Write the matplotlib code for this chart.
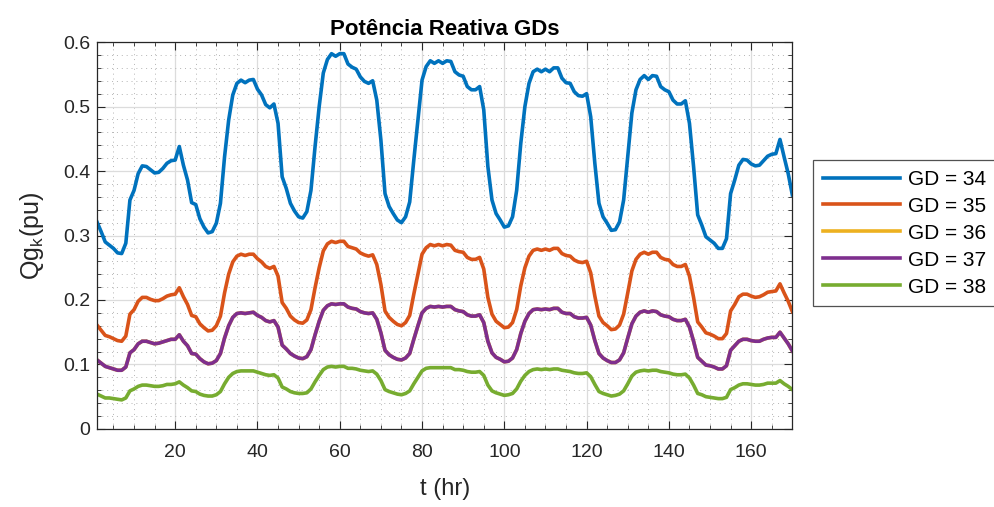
import numpy as np
import matplotlib.pyplot as plt
from matplotlib.ticker import MultipleLocator, FuncFormatter

plt.rcParams['font.family'] = ['Liberation Sans', 'DejaVu Sans']
plt.rcParams['mathtext.default'] = 'regular'

t = np.arange(1, 171)

gd34 = [0.321, 0.306, 0.290, 0.285, 0.280, 0.273, 0.272, 0.288, 0.355, 0.370,
        0.396, 0.408, 0.407, 0.402, 0.397, 0.398, 0.404, 0.412, 0.416, 0.417,
        0.438, 0.409, 0.386, 0.351, 0.348, 0.326, 0.313, 0.304, 0.306, 0.319,
        0.350, 0.422, 0.479, 0.518, 0.536, 0.541, 0.537, 0.541, 0.542, 0.527,
        0.518, 0.503, 0.498, 0.504, 0.474, 0.391, 0.373, 0.350, 0.338, 0.329,
        0.327, 0.337, 0.370, 0.438, 0.500, 0.552, 0.573, 0.582, 0.578, 0.582,
        0.582, 0.566, 0.561, 0.558, 0.546, 0.539, 0.536, 0.540, 0.510, 0.448,
        0.365, 0.345, 0.334, 0.324, 0.320, 0.329, 0.352, 0.417, 0.479, 0.541,
        0.562, 0.571, 0.567, 0.571, 0.567, 0.571, 0.570, 0.554, 0.549, 0.547,
        0.531, 0.526, 0.526, 0.531, 0.495, 0.407, 0.355, 0.334, 0.324, 0.313,
        0.315, 0.329, 0.370, 0.443, 0.500, 0.536, 0.554, 0.558, 0.554, 0.558,
        0.554, 0.560, 0.560, 0.544, 0.537, 0.536, 0.523, 0.517, 0.516, 0.520,
        0.484, 0.412, 0.350, 0.329, 0.319, 0.308, 0.309, 0.321, 0.355, 0.422,
        0.490, 0.526, 0.542, 0.548, 0.542, 0.548, 0.547, 0.531, 0.526, 0.523,
        0.510, 0.504, 0.504, 0.509, 0.474, 0.407, 0.332, 0.316, 0.298, 0.293,
        0.288, 0.280, 0.280, 0.295, 0.365, 0.386, 0.409, 0.418, 0.417, 0.411,
        0.408, 0.409, 0.416, 0.423, 0.426, 0.427, 0.449, 0.422, 0.396, 0.363]

gd35 = [0.161, 0.153, 0.145, 0.143, 0.140, 0.137, 0.136, 0.144, 0.178, 0.185,
        0.198, 0.204, 0.204, 0.201, 0.199, 0.199, 0.202, 0.206, 0.208, 0.209,
        0.219, 0.205, 0.193, 0.176, 0.174, 0.163, 0.157, 0.152, 0.153, 0.160,
        0.175, 0.211, 0.240, 0.259, 0.268, 0.271, 0.269, 0.271, 0.271, 0.264,
        0.259, 0.252, 0.249, 0.252, 0.237, 0.196, 0.187, 0.175, 0.169, 0.165,
        0.164, 0.169, 0.185, 0.219, 0.250, 0.276, 0.287, 0.291, 0.289, 0.291,
        0.291, 0.283, 0.281, 0.279, 0.273, 0.270, 0.268, 0.270, 0.255, 0.224,
        0.183, 0.173, 0.167, 0.162, 0.160, 0.165, 0.176, 0.209, 0.240, 0.271,
        0.281, 0.286, 0.284, 0.286, 0.284, 0.286, 0.285, 0.277, 0.275, 0.274,
        0.266, 0.263, 0.263, 0.266, 0.248, 0.204, 0.178, 0.167, 0.162, 0.157,
        0.158, 0.165, 0.185, 0.222, 0.250, 0.268, 0.277, 0.279, 0.277, 0.279,
        0.277, 0.280, 0.280, 0.272, 0.269, 0.268, 0.262, 0.259, 0.258, 0.260,
        0.242, 0.206, 0.175, 0.165, 0.160, 0.154, 0.155, 0.161, 0.178, 0.211,
        0.245, 0.263, 0.271, 0.274, 0.271, 0.274, 0.274, 0.266, 0.263, 0.262,
        0.255, 0.252, 0.252, 0.255, 0.237, 0.204, 0.166, 0.158, 0.149, 0.147,
        0.144, 0.140, 0.140, 0.148, 0.183, 0.193, 0.205, 0.209, 0.209, 0.206,
        0.204, 0.205, 0.208, 0.212, 0.213, 0.214, 0.225, 0.211, 0.198, 0.182]

gd36 = [0.107, 0.102, 0.097, 0.095, 0.093, 0.091, 0.091, 0.096, 0.118, 0.123,
        0.132, 0.136, 0.136, 0.134, 0.132, 0.133, 0.135, 0.137, 0.139, 0.139,
        0.146, 0.136, 0.129, 0.117, 0.116, 0.109, 0.104, 0.101, 0.102, 0.106,
        0.117, 0.141, 0.160, 0.173, 0.179, 0.180, 0.179, 0.180, 0.181, 0.176,
        0.173, 0.168, 0.166, 0.168, 0.158, 0.130, 0.124, 0.117, 0.113, 0.110,
        0.109, 0.112, 0.123, 0.146, 0.167, 0.184, 0.191, 0.194, 0.193, 0.194,
        0.194, 0.189, 0.187, 0.186, 0.182, 0.180, 0.179, 0.180, 0.170, 0.149,
        0.122, 0.115, 0.111, 0.108, 0.107, 0.110, 0.117, 0.139, 0.160, 0.180,
        0.187, 0.190, 0.189, 0.190, 0.189, 0.190, 0.190, 0.185, 0.183, 0.182,
        0.177, 0.175, 0.175, 0.177, 0.165, 0.136, 0.118, 0.111, 0.108, 0.104,
        0.105, 0.110, 0.123, 0.148, 0.167, 0.179, 0.185, 0.186, 0.185, 0.186,
        0.185, 0.187, 0.187, 0.181, 0.179, 0.179, 0.174, 0.172, 0.172, 0.173,
        0.161, 0.137, 0.117, 0.110, 0.106, 0.103, 0.103, 0.107, 0.118, 0.141,
        0.163, 0.175, 0.181, 0.183, 0.181, 0.183, 0.182, 0.177, 0.175, 0.174,
        0.170, 0.168, 0.168, 0.170, 0.158, 0.136, 0.111, 0.105, 0.099, 0.098,
        0.096, 0.093, 0.093, 0.098, 0.122, 0.129, 0.136, 0.139, 0.139, 0.137,
        0.136, 0.136, 0.139, 0.141, 0.142, 0.142, 0.150, 0.141, 0.132, 0.121]

# GD 37 coincide com GD 36
gd37 = list(gd36)

gd38 = [0.054, 0.051, 0.048, 0.048, 0.047, 0.046, 0.045, 0.048, 0.059, 0.062,
        0.066, 0.068, 0.068, 0.067, 0.066, 0.066, 0.067, 0.069, 0.069, 0.070,
        0.073, 0.068, 0.064, 0.059, 0.058, 0.054, 0.052, 0.051, 0.051, 0.053,
        0.058, 0.070, 0.080, 0.086, 0.089, 0.090, 0.090, 0.090, 0.090, 0.088,
        0.086, 0.084, 0.083, 0.084, 0.079, 0.065, 0.062, 0.058, 0.056, 0.055,
        0.055, 0.056, 0.062, 0.073, 0.083, 0.092, 0.096, 0.097, 0.096, 0.097,
        0.097, 0.094, 0.094, 0.093, 0.091, 0.090, 0.089, 0.090, 0.085, 0.075,
        0.061, 0.058, 0.056, 0.054, 0.053, 0.055, 0.059, 0.070, 0.080, 0.090,
        0.094, 0.095, 0.095, 0.095, 0.095, 0.095, 0.095, 0.092, 0.092, 0.091,
        0.089, 0.088, 0.088, 0.089, 0.083, 0.068, 0.059, 0.056, 0.054, 0.052,
        0.053, 0.055, 0.062, 0.074, 0.083, 0.089, 0.092, 0.093, 0.092, 0.093,
        0.092, 0.093, 0.093, 0.091, 0.090, 0.089, 0.087, 0.086, 0.086, 0.087,
        0.081, 0.069, 0.058, 0.055, 0.053, 0.051, 0.052, 0.054, 0.059, 0.070,
        0.082, 0.088, 0.090, 0.091, 0.090, 0.091, 0.091, 0.089, 0.088, 0.087,
        0.085, 0.084, 0.084, 0.085, 0.079, 0.068, 0.055, 0.053, 0.050, 0.049,
        0.048, 0.047, 0.047, 0.049, 0.061, 0.064, 0.068, 0.070, 0.070, 0.069,
        0.068, 0.068, 0.069, 0.071, 0.071, 0.071, 0.075, 0.070, 0.066, 0.061]

series = [gd34, gd35, gd36, gd37, gd38]
labels = ['GD = 34', 'GD = 35', 'GD = 36', 'GD = 37', 'GD = 38']
cores = ['#0072BD', '#D95319', '#EDB120', '#7E2F8E', '#77AC30']

fig = plt.figure(figsize=(9.94, 5.07), dpi=100)
ax = fig.add_axes([0.0976, 0.154, 0.6995, 0.763])

for y, lab, c in zip(series, labels, cores):
    ax.plot(t, y, color=c, linewidth=2.6, label=lab)

ax.set_xlim(1, 170)
ax.set_ylim(0, 0.6)
ax.xaxis.set_major_locator(MultipleLocator(20))
ax.xaxis.set_minor_locator(MultipleLocator(5))
ax.yaxis.set_major_locator(MultipleLocator(0.1))
ax.yaxis.set_minor_locator(MultipleLocator(0.02))
ax.yaxis.set_major_formatter(FuncFormatter(lambda v, p: '0' if abs(v) < 1e-9 else f'{v:g}'))

ax.grid(True, which='major', color='#dcdcdc', linewidth=0.9)
ax.grid(True, which='minor', color='#b4b4b4', linestyle=(0, (1, 4)), linewidth=0.7)
ax.set_axisbelow(True)

ax.tick_params(which='both', direction='in', top=True, right=True,
               colors='#262626', labelsize=14)
ax.tick_params(axis='x', which='major', pad=11)
ax.tick_params(axis='y', which='major', pad=5)
ax.tick_params(which='major', length=6)
ax.tick_params(which='minor', length=3)
for s in ax.spines.values():
    s.set_color('#262626')
    s.set_linewidth(0.9)

ax.set_title('Potência Reativa GDs', fontsize=16, fontweight='bold', pad=5)
ax.set_xlabel('t (hr)', fontsize=17, color='#262626', labelpad=12)
ax.set_ylabel('Qg$_{k}$(pu)', fontsize=18, color='#262626', labelpad=12)

leg = ax.legend(loc='center left', bbox_to_anchor=(1.03, 0.506), fontsize=15,
                frameon=True, fancybox=False, edgecolor='#262626',
                handlelength=3.7, handletextpad=0.4, labelspacing=0.38,
                borderaxespad=0, borderpad=0.45)
leg.get_frame().set_linewidth(0.9)
for ln in leg.get_lines():
    ln.set_linewidth(2.6)

fig.savefig('out.png', dpi=100)
